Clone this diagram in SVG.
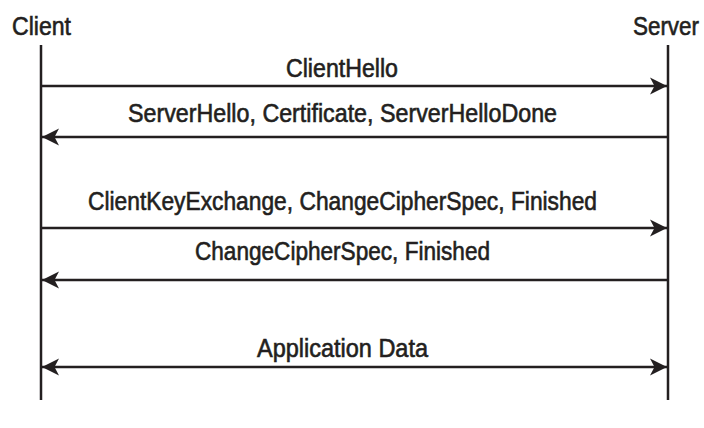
<svg xmlns="http://www.w3.org/2000/svg" width="704" height="428" viewBox="0 0 704 428">
<defs>
<marker id="ah" viewBox="-18 -9 19 18" refX="0" refY="0" markerWidth="19" markerHeight="18" markerUnits="userSpaceOnUse" orient="auto-start-reverse">
<path d="M0,0 L-17,-8.5 L-12.5,0 L-17,8.5 Z" fill="#231f20"/>
</marker>
<style>
text{font-family:"Liberation Sans",Arial,sans-serif;fill:#231f20;stroke:#231f20;stroke-width:0.6;}
.lbl{font-size:25px;text-anchor:middle;}
.actor{font-size:25px;}
.life{stroke:#231f20;stroke-width:2.5;fill:none;}
.msg{stroke:#231f20;stroke-width:2.3;fill:none;}
</style>
</defs>
<rect width="704" height="428" fill="#ffffff"/>
<g id="client">
<text class="actor" x="12" y="35" textLength="59" lengthAdjust="spacingAndGlyphs">Client</text>
<line class="life" x1="41" y1="45" x2="41" y2="400"/>
</g>
<g id="server">
<text class="actor" transform="translate(699,35) scale(0.897,1)" x="0" y="0" text-anchor="end">Server</text>
<line class="life" x1="668" y1="45" x2="668" y2="400"/>
</g>
<g id="connectors">
<line class="msg" x1="42" y1="86" x2="667" y2="86" marker-end="url(#ah)"/>
<line class="msg" x1="42" y1="137" x2="667" y2="137" marker-start="url(#ah)"/>
<line class="msg" x1="42" y1="228" x2="667" y2="228" marker-end="url(#ah)"/>
<line class="msg" x1="42" y1="280" x2="667" y2="280" marker-start="url(#ah)"/>
<line class="msg" x1="42" y1="367" x2="667" y2="367" marker-start="url(#ah)" marker-end="url(#ah)"/>
</g>
<g id="labels">
<text class="lbl" x="342" y="77" textLength="112" lengthAdjust="spacingAndGlyphs">ClientHello</text>
<text class="lbl" x="342.5" y="122" textLength="429" lengthAdjust="spacingAndGlyphs">ServerHello, Certificate, ServerHelloDone</text>
<text class="lbl" x="342.5" y="210" textLength="509" lengthAdjust="spacingAndGlyphs">ClientKeyExchange, ChangeCipherSpec, Finished</text>
<text class="lbl" x="342.5" y="260" textLength="295" lengthAdjust="spacingAndGlyphs">ChangeCipherSpec, Finished</text>
<text class="lbl" x="342.5" y="357" textLength="171" lengthAdjust="spacingAndGlyphs">Application Data</text>
</g>
</svg>
